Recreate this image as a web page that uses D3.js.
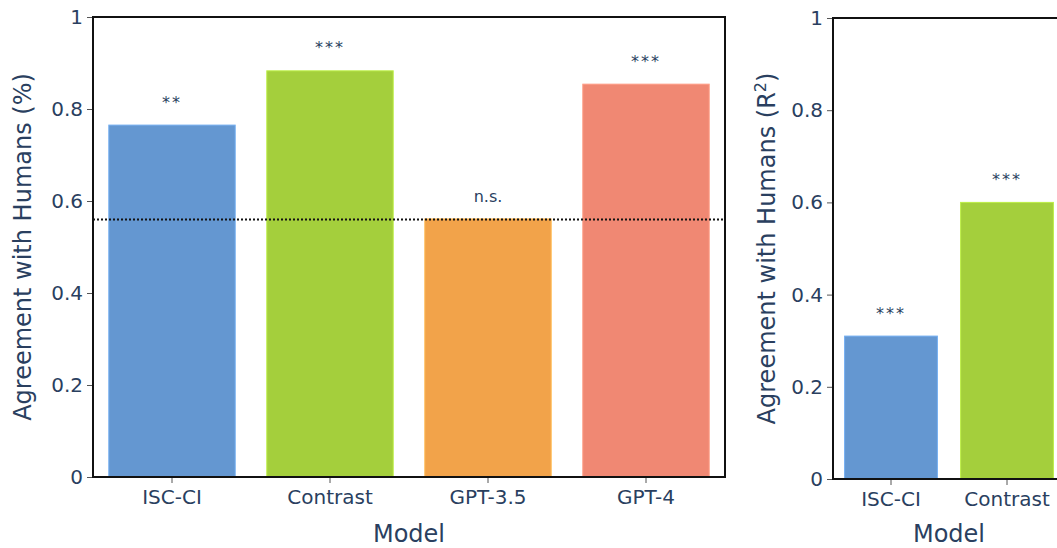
<!DOCTYPE html>
<html>
<head>
<meta charset="utf-8">
<script src="https://cdn.jsdelivr.net/npm/d3@7"></script>
<style>
  html, body { margin: 0; padding: 0; background: #fff; }
  svg { display: block; font-family: "DejaVu Sans", Verdana, sans-serif; }
</style>
</head>
<body>
<svg id="chart" width="1057" height="548"></svg>
<script>
// Agreement of each model with human judgements
const leftCategories = ["ISC-CI", "Contrast", "GPT-3.5", "GPT-4"];
const leftValues = [0.765, 0.883, 0.561, 0.854];
const leftStars = ["**", "***", "n.s.", "***"];
const chanceLevel = 0.56;

const rightCategories = ["ISC-CI", "Contrast"];
const rightValues = [0.31, 0.60];
const rightStars = ["***", "***"];

const yTicks = [0, 0.2, 0.4, 0.6, 0.8, 1];
const barColors = ["#6497d1", "#a4cf3c", "#f2a34a", "#f08873"];
const textColor = "#2a3f5f";

const svg = d3.select("#chart");

function panel(opts) {
  const { categories, values, stars, x0, x1, y0, y1, title, titleOffset, baseline } = opts;
  const g = svg.append("g");

  const x = d3.scaleBand().domain(categories).range([x0, x1]).paddingInner(0.2).paddingOuter(0.1);
  const y = d3.scaleLinear().domain([0, 1]).range([y1, y0]);

  // bars
  g.selectAll("rect.bar").data(values).join("rect")
    .attr("class", "bar")
    .attr("x", (d, i) => x(categories[i]))
    .attr("width", x.bandwidth())
    .attr("y", d => y(d))
    .attr("height", d => y(0) - y(d))
    .attr("fill", (d, i) => barColors[i])
    .attr("stroke", (d, i) => d3.color(barColors[i]).brighter(0.4))
    .attr("stroke-width", 1);

  // significance markers
  g.selectAll("text.star").data(values).join("text")
    .attr("class", "star")
    .attr("x", (d, i) => x(categories[i]) + x.bandwidth() / 2)
    .attr("y", d => y(d + 0.05))
    .attr("dy", "0.35em")
    .attr("text-anchor", "middle")
    .attr("font-size", 16)
    .attr("letter-spacing", (d, i) => stars[i].startsWith("*") ? 2 : 0)
    .attr("fill", textColor)
    .text((d, i) => stars[i]);

  if (baseline !== undefined) {
    g.append("line")
      .attr("x1", x0).attr("x2", x1)
      .attr("y1", y(baseline)).attr("y2", y(baseline))
      .attr("stroke", "#111").attr("stroke-width", 2)
      .attr("stroke-dasharray", "2,2");
  }

  // frame
  g.append("rect")
    .attr("x", x0).attr("y", y0)
    .attr("width", x1 - x0).attr("height", y1 - y0)
    .attr("fill", "none").attr("stroke", "#111").attr("stroke-width", 2);

  // y axis
  const ya = g.append("g").attr("transform", `translate(${x0 - 1},0)`)
    .call(d3.axisLeft(y).tickValues(yTicks).tickSize(5).tickPadding(4)
      .tickFormat(d => d === 0 || d === 1 ? String(d) : d3.format(".1f")(d)));
  ya.select(".domain").remove();
  ya.selectAll("line").attr("stroke", "#555");
  ya.selectAll("text").attr("font-size", 20).attr("fill", textColor)
    .attr("font-family", "DejaVu Sans, sans-serif");

  // x axis
  const xa = g.append("g").attr("transform", `translate(0,${y1 + 1})`)
    .call(d3.axisBottom(x).tickSize(5).tickPadding(7));
  xa.select(".domain").remove();
  xa.selectAll("line").attr("stroke", "#555");
  xa.selectAll("text").attr("font-size", 20).attr("fill", textColor)
    .attr("font-family", "DejaVu Sans, sans-serif");

  // axis titles
  g.append("text")
    .attr("x", (x0 + x1) / 2)
    .attr("y", 542)
    .attr("text-anchor", "middle")
    .attr("font-size", 24)
    .attr("fill", textColor)
    .text("Model");

  const yt = g.append("text")
    .attr("transform", `translate(${x0 - titleOffset},${(y0 + y1) / 2}) rotate(-90)`)
    .attr("text-anchor", "middle")
    .attr("font-size", 24)
    .attr("fill", textColor);
  title(yt);
  return { x, y };
}

panel({
  categories: leftCategories, values: leftValues, stars: leftStars,
  x0: 93, x1: 725, y0: 17, y1: 477, baseline: chanceLevel, titleOffset: 62,
  title: t => t.text("Agreement with Humans (%)")
});

panel({
  categories: rightCategories, values: rightValues, stars: rightStars,
  x0: 833, x1: 833 + 2 * 116, y0: 18, y1: 479, titleOffset: 58,
  title: t => {
    t.append("tspan").text("Agreement with Humans (R");
    t.append("tspan").attr("baseline-shift", "super").attr("font-size", 16).text("2");
    t.append("tspan").text(")");
  }
});
</script>
</body>
</html>
